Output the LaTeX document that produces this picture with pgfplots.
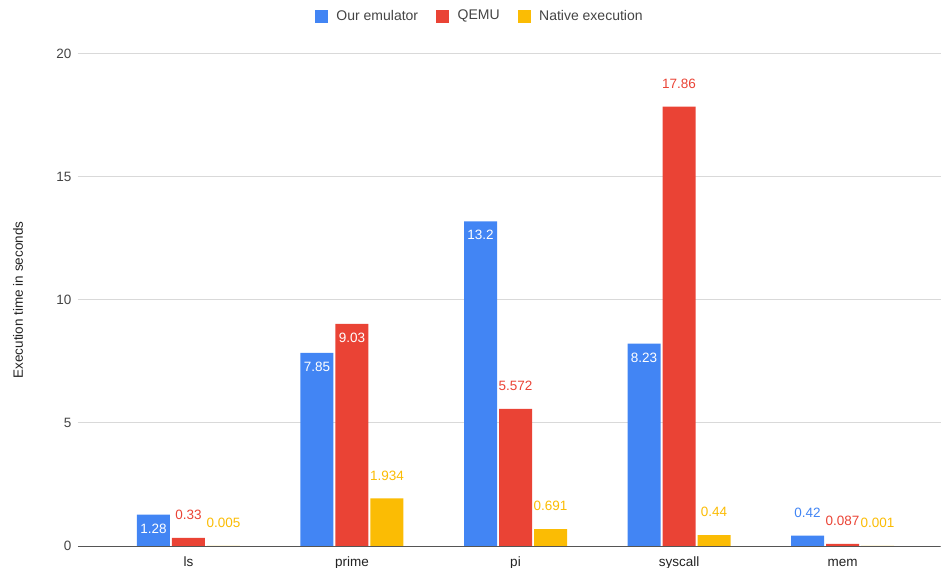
\documentclass[border=0pt]{standalone}
\usepackage{pgfplots}
\pgfplotsset{compat=1.18}
\usepackage{pgfplotstable}
\usepackage{fontspec}
\setmainfont{Liberation Sans}

\definecolor{emu}{HTML}{4285F4}
\definecolor{qemu}{HTML}{EA4335}
\definecolor{native}{HTML}{FBBC04}
\definecolor{gridgray}{HTML}{D9D9D9}
\definecolor{axisgray}{HTML}{555555}
\definecolor{ticktext}{HTML}{444444}
\definecolor{labeltext}{HTML}{222222}

% x: benchmark index, y: seconds, pct: 100 = value label sits inside the bar
\pgfplotstableread{
x y pct
0 1.28 100
1 7.85 100
2 13.2 100
3 8.23 100
4 0.42 0
}\emudata
\pgfplotstableread{
x y pct
0 0.33 0
1 9.03 100
2 5.572 0
3 17.86 0
4 0.087 0
}\qemudata
\pgfplotstableread{
x y pct
0 0.005 0
1 1.934 0
2 0.691 0
3 0.44 0
4 0.001 0
}\nativedata

\pgfplotsset{
  sqlegend/.style={legend image code/.code={\fill[##1] (0bp,-6.5bp) rectangle (13bp,6.5bp);}},
  % value labels: invisible bars carrying nodes near coords
  labels/.style={draw=none, fill=none, forget plot,
    nodes near coords={\pgfmathprintnumber[fixed,precision=3]{\pgfplotspointmeta}},
    point meta=y},
  inlabel/.style={labels, restrict expr to domain={\thisrow{pct}}{50:150},
    every node near coord/.append style={anchor=center, inner sep=0pt, yshift=-14bp, text=white}},
  outlabel/.style={labels, restrict expr to domain={\thisrow{pct}}{-50:50},
    every node near coord/.append style={anchor=center, inner sep=0pt, yshift=23bp, text=#1}},
}

\begin{document}
\fontsize{13.5bp}{16bp}\selectfont
\begin{tikzpicture}
\path[use as bounding box] (-78bp,-22bp) rectangle (863bp,546bp);
\begin{axis}[
  at={(0,0)}, anchor=south west,
  scale only axis, width=862.7bp, height=492bp,
  xmin=-0.6758, xmax=4.6006, ymin=0, ymax=20,
  ybar, bar width=33bp,
  axis line style={draw=none},
  major tick length=0pt,
  tick style={draw=none},
  ytick={0,5,10,15,20},
  ymajorgrids, grid style={gridgray, line width=1bp},
  xtick={0,1,2,3,4},
  xticklabels={ls,prime,pi,syscall,mem},
  yticklabel style={inner sep=0pt, xshift=-6.5bp, text=ticktext},
  xticklabel style={anchor=base, inner sep=0pt, yshift=-20bp, text=labeltext},
  /pgf/number format/assume math mode=true,
  ylabel={Execution time in seconds},
  ylabel style={at={(axis description cs:-0.0696,0.5)}, anchor=center, text=labeltext},
  legend columns=3,
  legend style={at={(axis description cs:0.2747,1.077)}, anchor=west,
    draw=none, fill=none, inner sep=0pt, outer sep=0pt, text=ticktext,
    font=\fontsize{14bp}{16bp}\selectfont,
    /tikz/every odd column/.append style={column sep=6.5bp},
    /tikz/every even column/.append style={column sep=16bp}},
]
\addplot[fill=emu, draw=none, bar shift=-35bp, sqlegend] table[x=x, y=y] {\emudata};
\addlegendentry{Our emulator}
\addplot[fill=qemu, draw=none, bar shift=0bp, sqlegend] table[x=x, y=y] {\qemudata};
\addlegendentry{QEMU}
\addplot[fill=native, draw=none, bar shift=35bp, sqlegend] table[x=x, y=y] {\nativedata};
\addlegendentry{Native execution}

\addplot[inlabel, bar shift=-35bp] table[x=x, y=y] {\emudata};
\addplot[outlabel=emu, bar shift=-35bp] table[x=x, y=y] {\emudata};
\addplot[inlabel, bar shift=0bp] table[x=x, y=y] {\qemudata};
\addplot[outlabel=qemu, bar shift=0bp] table[x=x, y=y] {\qemudata};
\addplot[outlabel=native, bar shift=35bp] table[x=x, y=y] {\nativedata};

% baseline at zero
\draw[axisgray, line width=1bp] (rel axis cs:0,0) -- (rel axis cs:1,0);
\end{axis}
\end{tikzpicture}
\end{document}
